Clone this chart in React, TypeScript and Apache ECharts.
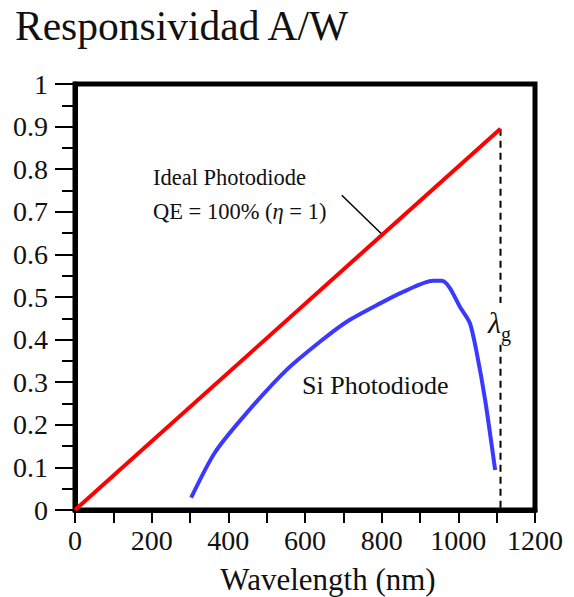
import React, { useEffect, useRef } from "react";
import * as echarts from "echarts";

// Si photodiode responsivity
const siWavelength = [303, 365, 448, 552, 639, 709, 796, 856, 934, 957, 978, 1004, 1030, 1048, 1070, 1096];
const siResponsivity = [0.029, 0.135, 0.228, 0.329, 0.395, 0.442, 0.485, 0.512, 0.538, 0.538, 0.521, 0.477, 0.439, 0.369, 0.258, 0.094];

// Ideal photodiode (QE = 100%)
const idealWavelength = [0, 1110];
const idealResponsivity = [0, 0.895];

// Cut-off wavelength lambda_g
const cutoffWavelength = [1110, 1110];
const cutoffResponsivity = [0.895, 0];

// Annotation pointer line
const pointerWavelength = [696, 800];
const pointerResponsivity = [0.739, 0.648];

const xMin = 0;
const xMax = 1200;
const xInterval = 200;
const yMin = 0;
const yMax = 1;
const yInterval = 0.1;

const SERIF = "'Liberation Serif', 'Times New Roman', Times, serif";
const TXT = "#111";

const zip = (a: number[], b: number[]) => a.map((v, i) => [v, b[i]]);

export default function App() {
  const ref = useRef<HTMLDivElement>(null);
  useEffect(() => {
    if (!ref.current) return;
    const chart = echarts.init(ref.current, null, { renderer: "svg" });
    chart.setOption({
      animation: false,
      backgroundColor: "#fff",
      grid: {
        left: 75,
        top: 84,
        width: 460,
        height: 426,
        show: true,
        borderColor: "#000",
        borderWidth: 5,
        backgroundColor: "transparent",
      },
      xAxis: {
        type: "value",
        min: xMin,
        max: xMax,
        interval: xInterval,
        axisLine: { show: true, lineStyle: { color: "#000", width: 5 } },
        axisTick: { show: true, length: 13, lineStyle: { color: "#000", width: 2 } },
        minorTick: { show: true, splitNumber: 2, length: 13, lineStyle: { color: "#000", width: 2 } },
        splitLine: { show: false },
        axisLabel: {
          color: TXT,
          fontFamily: SERIF,
          fontSize: 28,
          margin: 16,
          formatter: (v: number) => String(v),
        },
      },
      yAxis: {
        type: "value",
        min: yMin,
        max: yMax,
        interval: yInterval,
        axisLine: { show: true, lineStyle: { color: "#000", width: 5 } },
        axisTick: { show: true, length: 20, lineStyle: { color: "#000", width: 2 } },
        minorTick: { show: true, splitNumber: 2, length: 13, lineStyle: { color: "#000", width: 2 } },
        splitLine: { show: false },
        axisLabel: {
          color: TXT,
          fontFamily: SERIF,
          fontSize: 28,
          margin: 27,
          formatter: (v: number) => String(Math.round(v * 10) / 10),
        },
      },
      series: [
        {
          type: "line",
          data: zip(idealWavelength, idealResponsivity),
          showSymbol: false,
          lineStyle: { color: "#ff0000", width: 4 },
          z: 3,
        },
        {
          type: "line",
          data: zip(siWavelength, siResponsivity),
          showSymbol: false,
          smooth: 0.25,
          lineStyle: { color: "#3a3aff", width: 4 },
          z: 3,
        },
        {
          type: "line",
          data: zip(cutoffWavelength, cutoffResponsivity),
          showSymbol: false,
          lineStyle: { color: "#000", width: 2, type: [7, 5] },
          z: 2,
        },
        {
          type: "line",
          data: zip(pointerWavelength, pointerResponsivity),
          showSymbol: false,
          lineStyle: { color: "#000", width: 1.5 },
          z: 2,
        },
      ],
      graphic: [
        {
          type: "text",
          left: 15,
          top: 5,
          style: { text: "Responsividad A/W", font: `41.5px ${SERIF}`, fill: TXT },
        },
        {
          type: "text",
          x: 153,
          y: 177,
          style: {
            text: "Ideal Photodiode",
            font: `22.5px ${SERIF}`,
            fill: TXT,
            verticalAlign: "middle",
          },
        },
        {
          type: "text",
          x: 153,
          y: 211,
          style: {
            text: "QE = 100% ({e|η} = 1)",
            font: `22.5px ${SERIF}`,
            fill: TXT,
            verticalAlign: "middle",
            rich: {
              e: { fontFamily: SERIF, fontSize: 22.5, fontStyle: "italic", fill: TXT },
            },
          },
        },
        {
          type: "text",
          x: 302,
          y: 385,
          style: {
            text: "Si Photodiode",
            font: `26px ${SERIF}`,
            fill: TXT,
            verticalAlign: "middle",
          },
        },
        {
          type: "text",
          x: 487,
          y: 322,
          z: 10,
          style: {
            text: "{l|λ}{g|g}",
            fill: TXT,
            verticalAlign: "middle",
            backgroundColor: "#fff",
            padding: [4, 1, 4, 1],
            rich: {
              l: { fontFamily: SERIF, fontSize: 30, fontStyle: "italic", fill: TXT, verticalAlign: "bottom", height: 30 },
              g: { fontFamily: SERIF, fontSize: 20, fill: TXT, verticalAlign: "bottom", height: 30, padding: [0, 0, -12, 0] },
            },
          },
        },
        {
          type: "text",
          x: 328,
          y: 579,
          style: {
            text: "Wavelength (nm)",
            font: `31px ${SERIF}`,
            fill: TXT,
            align: "center",
            verticalAlign: "middle",
          },
        },
      ],
    });
    return () => chart.dispose();
  }, []);
  return (
    <div
      ref={ref}
      style={{ position: "fixed", left: 0, top: 0, width: 574, height: 597, background: "#fff" }}
    />
  );
}
